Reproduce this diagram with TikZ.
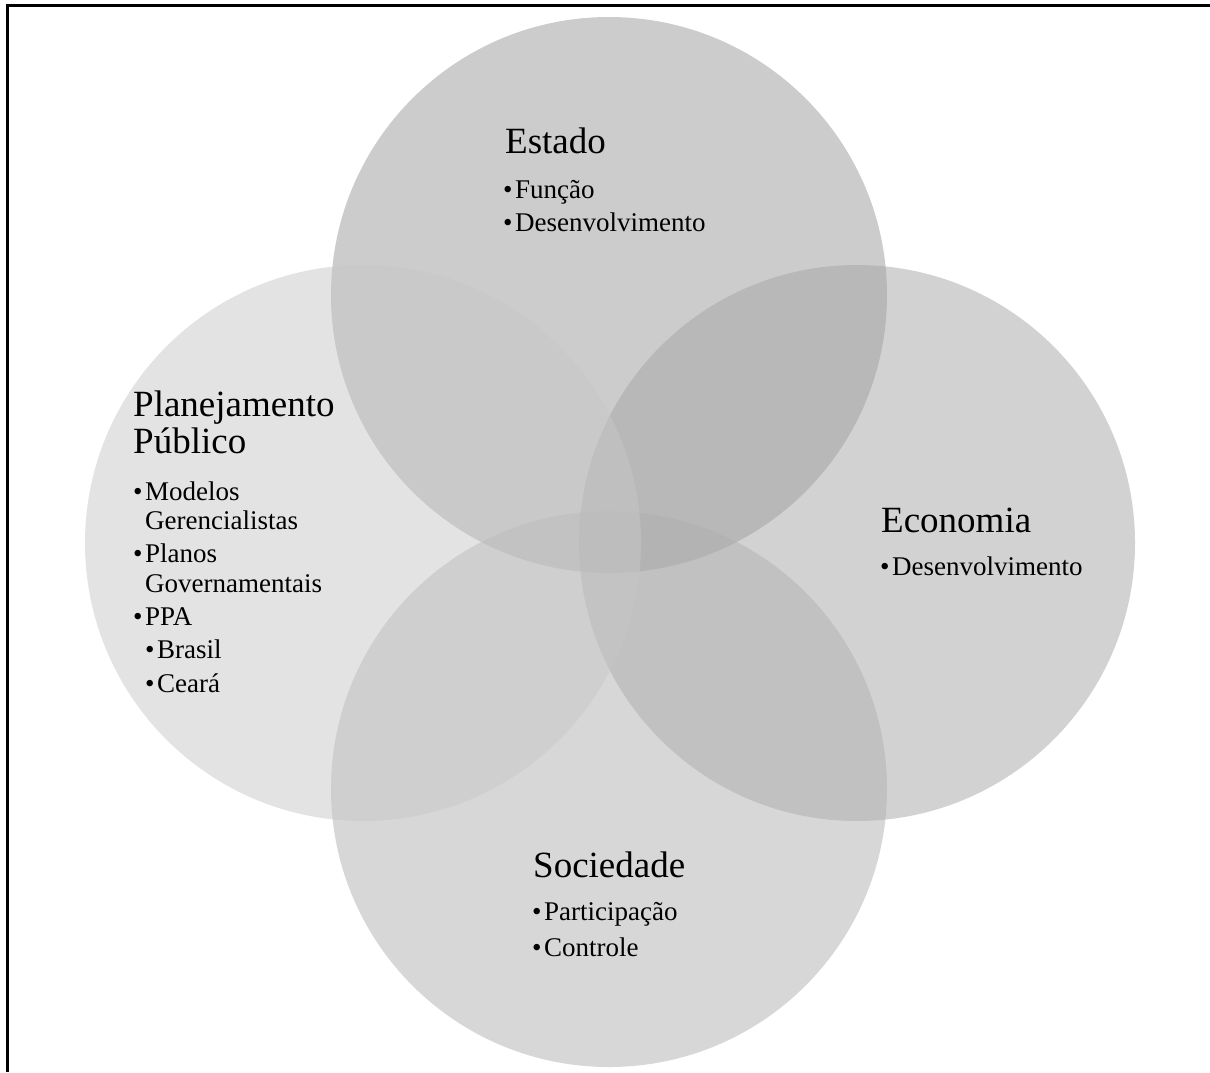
\documentclass[tikz,border=0pt]{standalone}
\usepackage{fontspec}
\setmainfont{Liberation Serif}
\definecolor{estadogray}{gray}{0.60}
\definecolor{economiagray}{gray}{0.65}
\definecolor{sociedadegray}{gray}{0.69}
\definecolor{planogray}{gray}{0.78}
\newcommand{\bul}{\makebox[12pt][l]{•}}
\begin{document}
\begin{tikzpicture}[x=1pt, y=-1pt,
    ring/.style={circle, inner sep=0pt, minimum size=556pt, fill opacity=0.5},
    titulo/.style={anchor=base west, inner sep=0pt, font=\fontsize{37}{37}\selectfont},
    topico/.style={anchor=base west, inner sep=0pt, font=\fontsize{27}{27}\selectfont}]
    \useasboundingbox (0,0) rectangle (1210,1072);

    % 1. moldura (so topo e esquerda aparecem)
    \draw[line width=2.4pt] (7.5,1072) -- (7.5,5.5) -- (1210,5.5);

    % 2. os quatro circulos semitransparentes (Planejamento por cima)
    \node[ring, fill=estadogray] (estado) at (609,295) {};
    \node[ring, fill=economiagray] (economia) at (857,543) {};
    \node[ring, fill=sociedadegray] (sociedade) at (609,789) {};
    \node[ring, fill=planogray] (plano) at (363,543) {};

    % 3. Estado
    \node[titulo] (tEstado) at (505,153) {Estado};
    \node[topico] (eFuncao) at (503,198) {\bul Função};
    \node[topico] (eDesenv) at (503,231) {\bul Desenvolvimento};

    % 4. Planejamento Publico
    \node[titulo] (tPlano1) at (133,416) {Planejamento};
    \node[titulo] (tPlano2) at (133,453) {Público};
    \node[topico] (pModelos) at (133,500) {\bul Modelos};
    \node[topico] (pGerenc) at (145,529) {Gerencialistas};
    \node[topico] (pPlanos) at (133,562) {\bul Planos};
    \node[topico] (pGov) at (145,592) {Governamentais};
    \node[topico] (pPPA) at (133,625) {\bul PPA};
    \node[topico] (pBrasil) at (145,658) {\bul Brasil};
    \node[topico] (pCeara) at (145,692) {\bul Ceará};

    % 5. Economia
    \node[titulo] (tEconomia) at (881,532) {Economia};
    \node[topico] (cDesenv) at (880,575) {\bul Desenvolvimento};

    % 6. Sociedade
    \node[titulo] (tSociedade) at (533,877) {Sociedade};
    \node[topico] (sPartic) at (532,920) {\bul Participação};
    \node[topico] (sControle) at (532,956) {\bul Controle};
\end{tikzpicture}
\end{document}
